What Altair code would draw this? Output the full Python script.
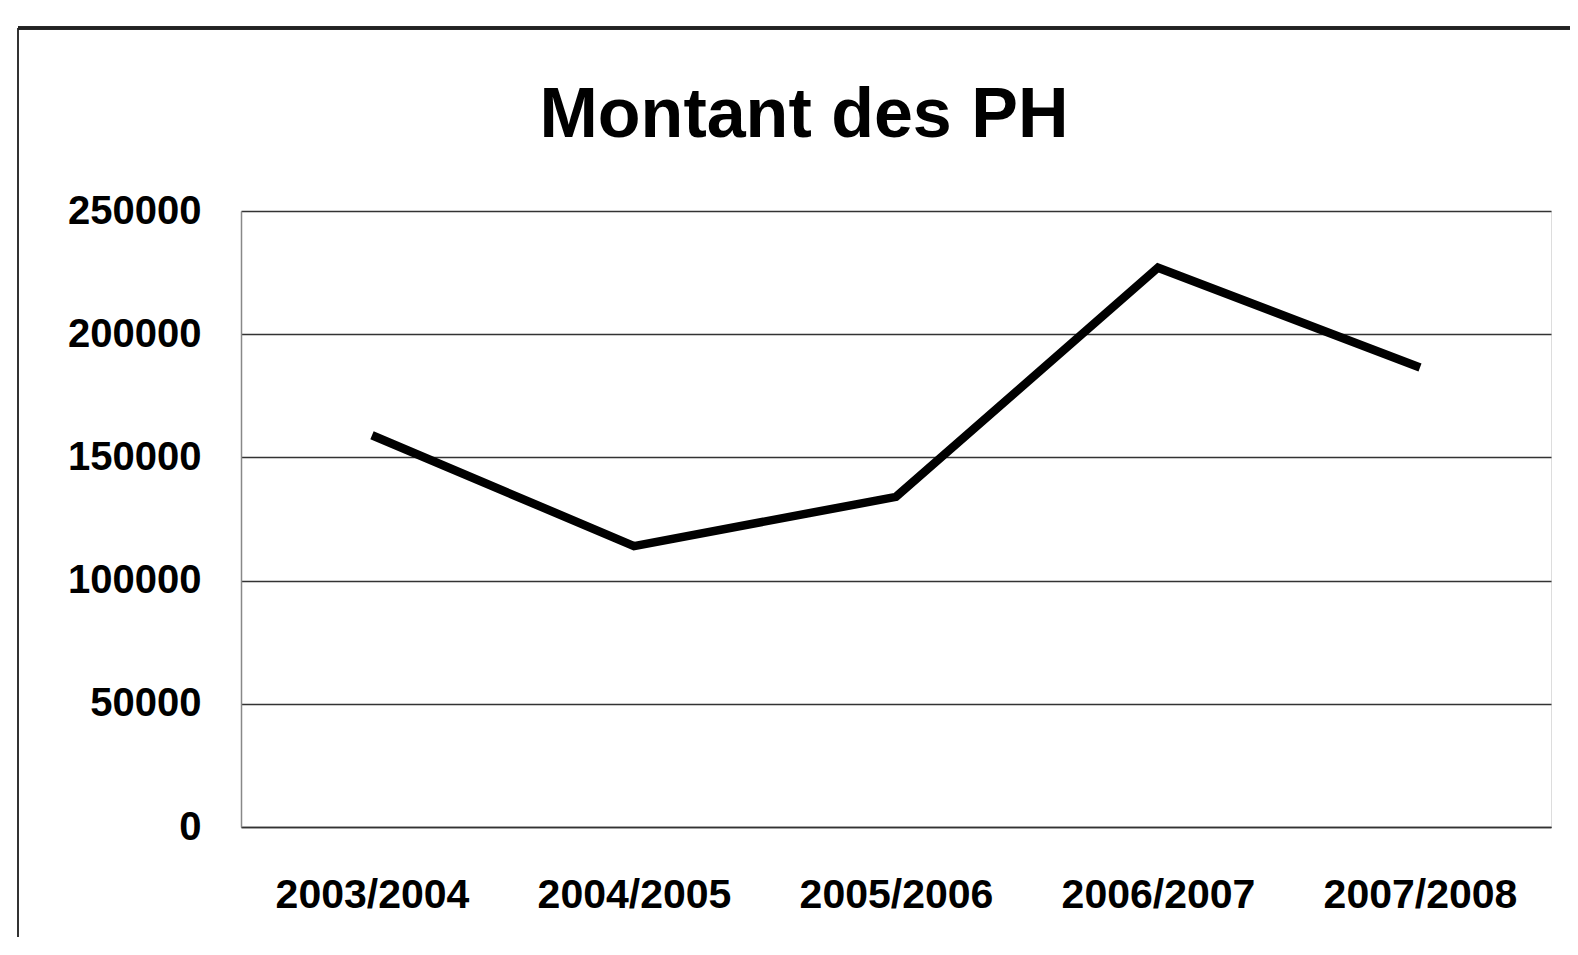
import altair as alt
import pandas as pd

years = ["2003/2004", "2004/2005", "2005/2006", "2006/2007", "2007/2008"]
montants = [159000, 114000, 134000, 227000, 186500]

df = pd.DataFrame({"annee": years, "montant": montants})

base = alt.Chart(df)

line = base.mark_line(color="black", strokeWidth=8.5, strokeJoin="miter").encode(
    x=alt.X(
        "annee:N",
        sort=years,
        scale=alt.Scale(type="point", padding=0.5),
        axis=alt.Axis(
            title=None,
            labelAngle=0,
            labelFont="Liberation Sans",
            labelFontSize=41,
            labelFontWeight="bold",
            labelColor="black",
            labelPadding=48,
            labelLimit=0,
            ticks=False,
            domain=True,
            domainColor="#333333",
            domainWidth=1.5,
            grid=False,
        ),
    ),
    y=alt.Y(
        "montant:Q",
        scale=alt.Scale(domain=[0, 250000]),
        axis=alt.Axis(
            title=None,
            values=[0, 50000, 100000, 150000, 200000, 250000],
            format="d",
            labelFont="Liberation Sans",
            labelFontSize=40,
            labelFontWeight="bold",
            labelColor="black",
            labelPadding=40,
            ticks=False,
            domain=True,
            domainColor="#888888",
            domainWidth=1.5,
            grid=True,
            gridColor="#333333",
            gridWidth=1.5,
        ),
    ),
)

frame_left = base.mark_rule(color="#333333", strokeWidth=2).encode(
    x=alt.value(-223), y=alt.value(-183), y2=alt.value(740)
)
frame_top = base.mark_rule(color="#222222", strokeWidth=3).encode(
    x=alt.value(-223), x2=alt.value(1330), y=alt.value(-183)
)

chart = (
    alt.layer(frame_left, frame_top, line)
    .properties(
        width=1310,
        height=616,
        title=alt.TitleParams(
            "Montant des PH",
            font="Liberation Sans",
            fontSize=70,
            fontWeight="bold",
            color="black",
            anchor="middle",
            dx=-92,
            offset=-125,
        ),
        autosize=alt.AutoSizeParams(type="none"),
        padding={"left": 233, "top": 203, "right": 19, "bottom": 110},
    )
    .configure_view(stroke=None)
    .configure(background="white")
)

chart.save("out.html", embed_options={"renderer": "svg", "actions": False})
